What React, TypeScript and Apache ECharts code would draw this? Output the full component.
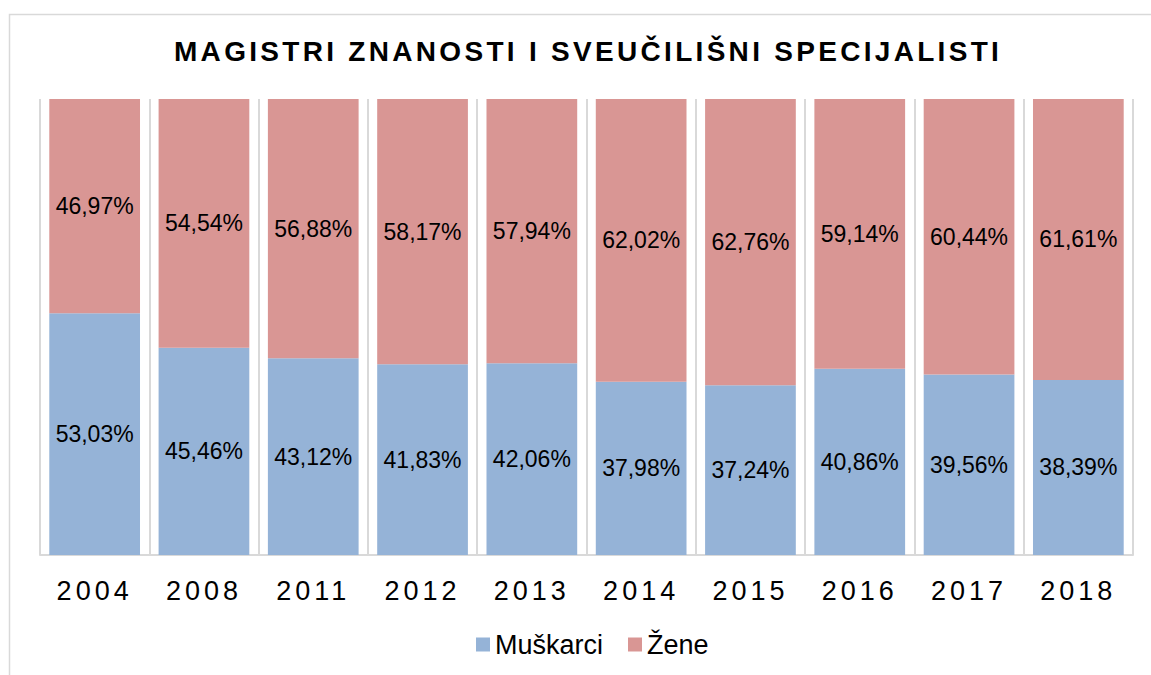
import React, { useEffect, useRef } from "react";
import * as echarts from "echarts";

const categories = ["2004", "2008", "2011", "2012", "2013", "2014", "2015", "2016", "2017", "2018"];
const muskarci = [53.03, 45.46, 43.12, 41.83, 42.06, 37.98, 37.24, 40.86, 39.56, 38.39];
const zene = [46.97, 54.54, 56.88, 58.17, 57.94, 62.02, 62.76, 59.14, 60.44, 61.61];
const seriesNames = ["Muškarci", "Žene"];
const titleText = "MAGISTRI ZNANOSTI I SVEUČILIŠNI SPECIJALISTI";

const FONT = "'Liberation Sans', Arial, sans-serif";

export default function App() {
  const ref = useRef<HTMLDivElement>(null);
  useEffect(() => {
    if (!ref.current) return;
    const chart = echarts.init(ref.current, null, { renderer: "svg" });
    const fmt = (p: any) => p.value.toFixed(2).replace(".", ",") + "%";
    chart.setOption({
      animation: false,
      backgroundColor: "#ffffff",
      textStyle: { fontFamily: FONT },
      graphic: [
        {
          type: "rect",
          shape: { x: 9.5, y: 14.5, width: 1170, height: 700 },
          style: { fill: "none", stroke: "#d9d9d9", lineWidth: 1.5 },
          silent: true,
        },
        {
          type: "text",
          x: 174,
          y: 51,
          style: {
            text: titleText,
            font: `bold 28px ${FONT}`,
            fill: "#000000",
            textAlign: "left",
            textVerticalAlign: "middle",
          },
        },
      ],
      legend: {
        left: 471,
        top: 626,
        itemWidth: 14,
        itemHeight: 14,
        itemGap: 25,
        icon: "rect",
        textStyle: { fontSize: 27, color: "#000", fontFamily: FONT },
        data: seriesNames,
      },
      grid: { left: 40, right: 18, top: 99, bottom: 120, containLabel: false },
      xAxis: {
        type: "category",
        data: categories,
        axisTick: { show: false },
        axisLine: { lineStyle: { color: "#d9d9d9", width: 2 } },
        splitLine: { show: true, lineStyle: { color: "#d9d9d9", width: 2 } },
        axisLabel: { fontSize: 27, color: "#000", margin: 22, fontFamily: FONT },
      },
      yAxis: { type: "value", min: 0, max: 100, show: false, splitLine: { show: false } },
      series: [
        {
          name: seriesNames[0],
          type: "bar",
          stack: "total",
          data: muskarci,
          barCategoryGap: "17%",
          itemStyle: { color: "#95B3D7" },
          label: { show: true, position: "inside", fontSize: 23, color: "#000", formatter: fmt, fontFamily: FONT },
        },
        {
          name: seriesNames[1],
          type: "bar",
          stack: "total",
          data: zene,
          barCategoryGap: "17%",
          itemStyle: { color: "#D99694" },
          label: { show: true, position: "inside", fontSize: 23, color: "#000", formatter: fmt, fontFamily: FONT },
        },
      ],
    });
    // letter spacing for title and year labels
    const texts = ref.current.querySelectorAll("text");
    texts.forEach((t) => {
      const c = t.textContent || "";
      if (c === titleText) t.style.letterSpacing = "3.3px";
      else if (categories.includes(c)) t.style.letterSpacing = "4px";
    });
    return () => chart.dispose();
  }, []);
  return <div ref={ref} style={{ position: "fixed", left: 0, top: 0, width: 1151, height: 675 }} />;
}
